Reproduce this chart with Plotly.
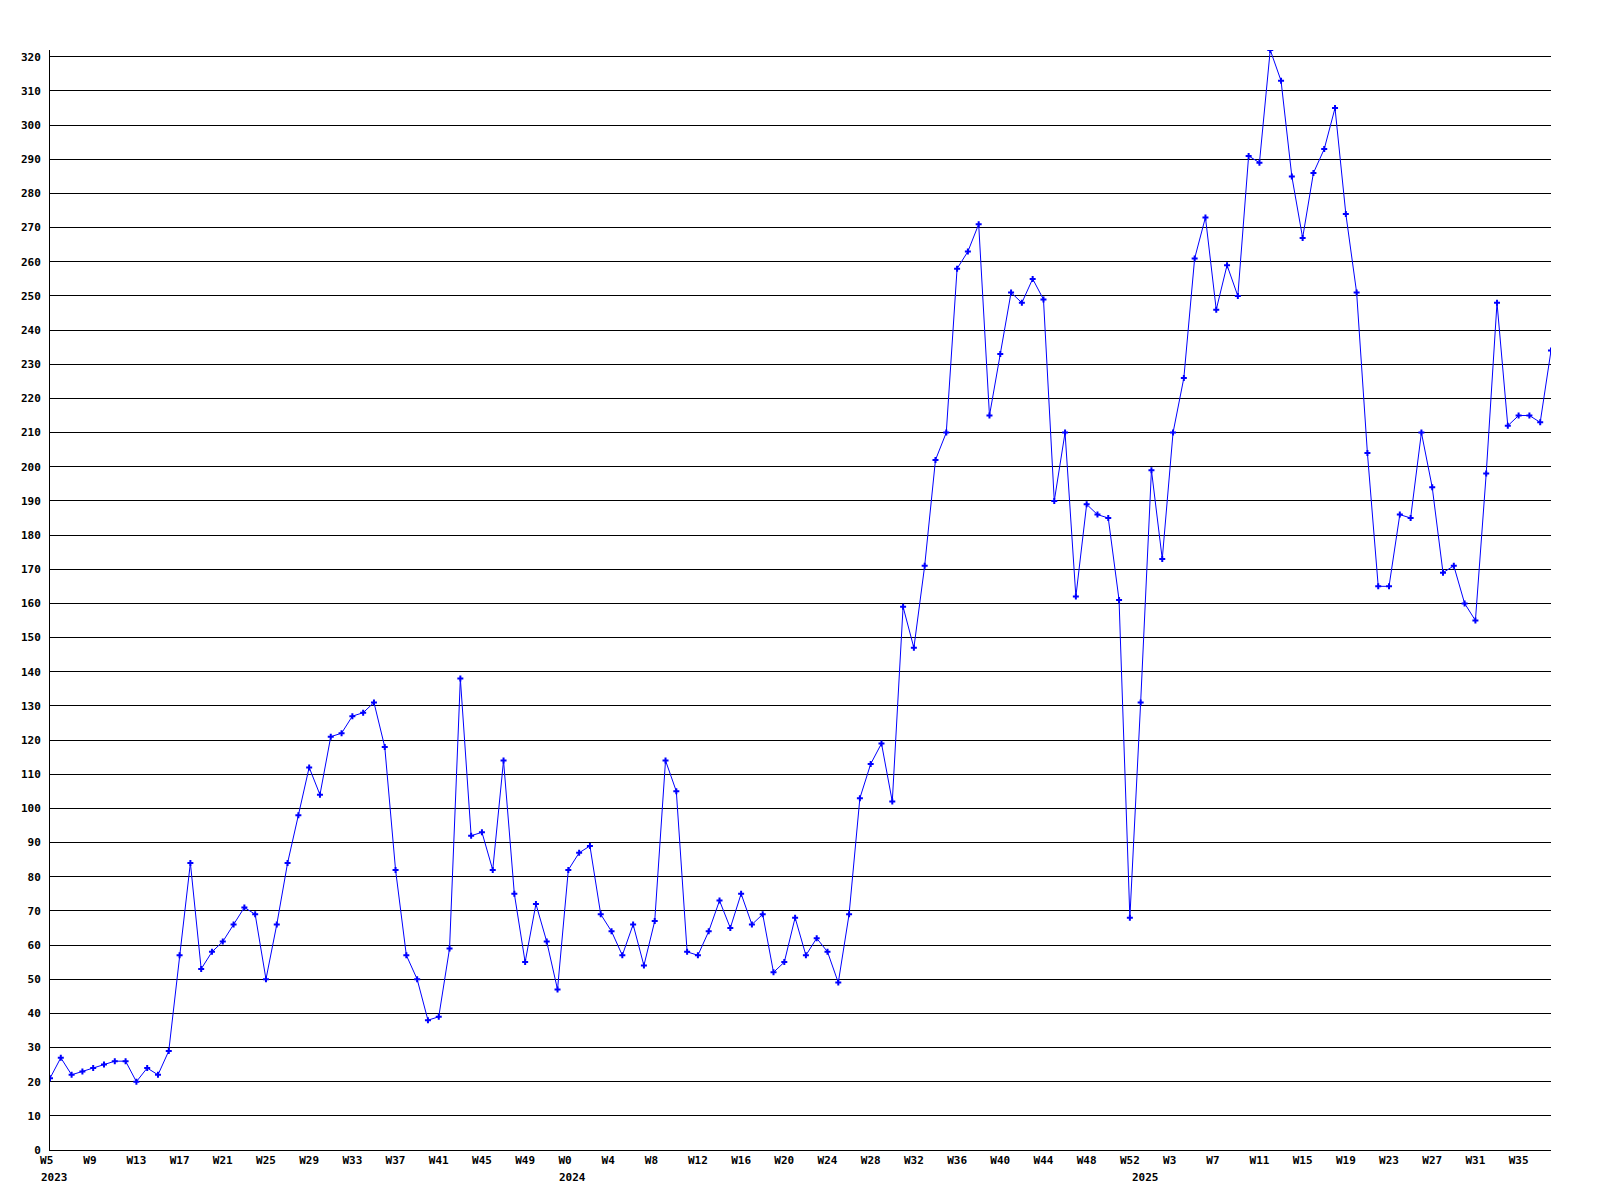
import plotly.graph_objects as go

# weekly counts, 2023 W5 .. 2025 W38
years = [2023, 2024, 2025]
first_week = [5, 0, 0]
last_week = [52, 52, 38]

values = [
    21, 27, 22, 23, 24, 25, 26, 26, 20, 24, 22, 29,
    57, 84, 53, 58, 61, 66, 71, 69, 50, 66, 84, 98,
    112, 104, 121, 122, 127, 128, 131, 118, 82, 57, 50, 38,
    39, 59, 138, 92, 93, 82, 114, 75, 55, 72, 61, 47,
    82, 87, 89, 69, 64, 57, 66, 54, 67, 114, 105, 58,
    57, 64, 73, 65, 75, 66, 69, 52, 55, 68, 57, 62,
    58, 49, 69, 103, 113, 119, 102, 159, 147, 171, 202, 210,
    258, 263, 271, 215, 233, 251, 248, 255, 249, 190, 210, 162,
    189, 186, 185, 161, 68, 131, 199, 173, 210, 226, 261, 273,
    246, 259, 250, 291, 289, 322, 313, 285, 267, 286, 293, 305,
    274, 251, 204, 165, 165, 186, 185, 210, 194, 169, 171, 160,
    155, 198, 248, 212, 215, 215, 213, 234,
]

# week labels per point and where each year starts
weeks = []
year_start = []
for yr, w0, w1 in zip(years, first_week, last_week):
    year_start.append(len(weeks))
    weeks += ["W%d" % w for w in range(w0, w1 + 1)]

x = list(range(len(values)))
tick_idx = x[::4]
tick_txt = [weeks[i].ljust(3, "\u00a0") for i in tick_idx]

font = dict(family="DejaVu Sans Mono", size=11, color="black", weight="bold")

fig = go.Figure(
    go.Scatter(
        x=x,
        y=values,
        mode="lines+markers",
        line=dict(color="#0000FF", width=1),
        marker=dict(symbol="cross", size=5, color="#0000FF"),
        hoverinfo="skip",
    )
)

for yr, i in zip(years, year_start):
    fig.add_annotation(
        x=i, y=0, xref="x", yref="paper",
        text=str(yr), showarrow=False,
        xanchor="left", yanchor="top", xshift=-11, yshift=-19,
        font=font,
    )

fig.update_xaxes(
    range=[0, len(values) - 1],
    tickvals=tick_idx,
    ticktext=tick_txt,
    tickfont=font,
    showgrid=False,
    zeroline=False,
    showline=True,
    linecolor="black",
    linewidth=1,
    ticks="",
)
fig.update_yaxes(
    range=[0, max(values)],
    dtick=10,
    tick0=0,
    tickfont=font,
    showgrid=True,
    gridcolor="black",
    gridwidth=1,
    zeroline=False,
    showline=True,
    linecolor="black",
    linewidth=1,
    ticks="",
    ticklabelstandoff=6,
)
# page body adds 8px margin, so offset the plot area
fig.update_layout(
    width=1600,
    height=1200,
    margin=dict(l=42, r=57, t=42, b=58),
    plot_bgcolor="#FFFFFF",
    paper_bgcolor="#FFFFFF",
    showlegend=False,
)

fig.write_html("out.html")
